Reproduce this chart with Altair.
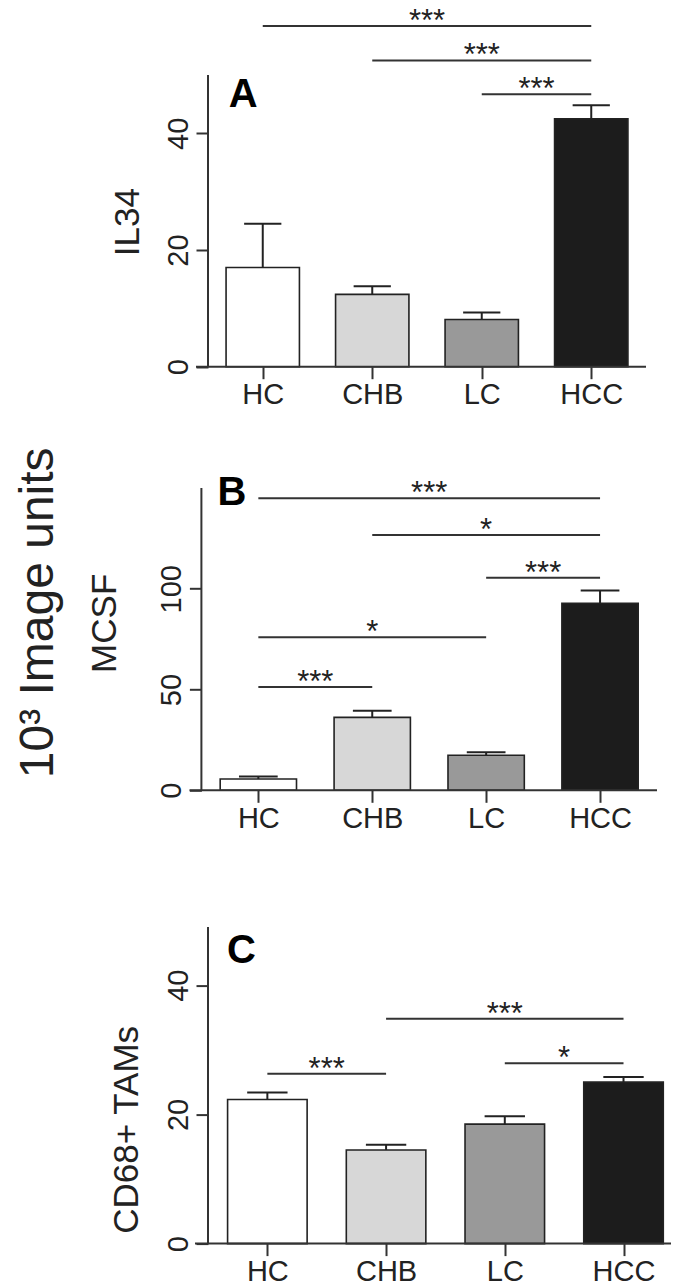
import json
import altair as alt
import pandas as pd

groups = ["HC", "CHB", "LC", "HCC"]
fills = ["#ffffff", "#d7d7d7", "#999999", "#1c1c1c"]

il34_mean = [17.0, 12.4, 8.1, 42.5]
il34_sem = [7.5, 1.4, 1.2, 2.3]
il34_sig_a = ["HC", "CHB", "LC"]
il34_sig_b = ["HCC", "HCC", "HCC"]
il34_sig_h = [58.4, 52.5, 46.7]
il34_sig_t = ["***", "***", "***"]

mcsf_mean = [5.6, 36.2, 17.4, 92.8]
mcsf_sem = [1.3, 3.3, 1.5, 6.4]
mcsf_sig_a = ["HC", "CHB", "LC", "HC", "HC"]
mcsf_sig_b = ["HCC", "HCC", "HCC", "LC", "CHB"]
mcsf_sig_h = [144.9, 126.7, 105.5, 75.9, 51.3]
mcsf_sig_t = ["***", "*", "***", "*", "***"]

cd68_mean = [22.3, 14.5, 18.5, 25.0]
cd68_sem = [1.1, 0.8, 1.2, 0.8]
cd68_sig_a = ["HC", "CHB", "LC"]
cd68_sig_b = ["CHB", "HCC", "HCC"]
cd68_sig_h = [26.3, 34.8, 27.9]
cd68_sig_t = ["***", "***", "*"]

AX = "#333333"
FONT = "Liberation Sans"
label_expr = json.dumps(groups) + "[datum.value]"


def panel(mean, sem, sa, sb, sh, st, letter, ytitle, yticks, axis_top,
          y_top, W, H, xdom, yoff, tx, ty, lx, ly, base_left, extra=None):
    idx = {g: i for i, g in enumerate(groups)}
    bars = pd.DataFrame({
        "group": groups,
        "pos": list(range(len(groups))),
        "mean": mean,
        "err": [m + s for m, s in zip(mean, sem)],
        "fill": fills,
    })
    bars["lo"] = bars["pos"] - 0.335
    bars["hi"] = bars["pos"] + 0.335
    bars["clo"] = bars["pos"] - 0.17
    bars["chi"] = bars["pos"] + 0.17
    sig = pd.DataFrame({
        "x1": [idx[a] for a in sa],
        "x2": [idx[b] for b in sb],
        "h": sh,
        "label": st,
    })
    sig["mid"] = (sig["x1"] + sig["x2"]) / 2
    axline = pd.DataFrame({"a": [0.0], "b": [axis_top]})

    xs = alt.Scale(domain=xdom, nice=False, zero=False)
    ys = alt.Scale(domain=[0, y_top], nice=False, zero=True)
    xaxis = alt.Axis(values=[0, 1, 2, 3], labelExpr=label_expr, title=None,
                     domain=False, grid=False, tickSize=12, tickWidth=2,
                     tickColor=AX, labelFontSize=29, labelPadding=2,
                     labelColor="#222222", labelBaseline="top",
                     labelFlush=False, labelOverlap=False)
    yaxis = alt.Axis(values=yticks, domain=False, grid=False, tickSize=12,
                     tickWidth=2, tickColor=AX, labelAngle=270,
                     labelAlign="center", labelBaseline="bottom",
                     labelPadding=3, labelFontSize=29, labelColor="#222222",
                     labelFlush=False, labelOverlap=False,
                     title=ytitle, titleFontSize=35, titleFontWeight="normal",
                     titleColor="#222222", titleAngle=270, titleX=tx,
                     titleY=ty, titleAlign="center", titleBaseline="middle",
                     offset=yoff)

    base = alt.Chart(bars)
    bar = base.mark_bar(stroke="#222222", strokeWidth=1.6).encode(
        x=alt.X("lo:Q", scale=xs, axis=xaxis),
        x2="hi:Q",
        y=alt.Y("mean:Q", scale=ys, axis=yaxis),
        y2=alt.datum(0),
        fill=alt.Fill("fill:N", scale=None),
    )
    stem = base.mark_rule(strokeWidth=2, color="#222222").encode(
        x=alt.X("pos:Q", scale=xs, axis=xaxis),
        y=alt.Y("mean:Q", scale=ys, axis=yaxis),
        y2="err:Q",
    )
    cap = base.mark_rule(strokeWidth=2, color="#222222").encode(
        x=alt.X("clo:Q", scale=xs, axis=xaxis),
        x2="chi:Q",
        y=alt.Y("err:Q", scale=ys, axis=yaxis),
    )
    yline = alt.Chart(axline).mark_rule(strokeWidth=2, color=AX).encode(
        x=alt.value(-yoff),
        y=alt.Y("a:Q", scale=ys, axis=yaxis),
        y2="b:Q",
    )
    xline = alt.Chart(axline).mark_rule(strokeWidth=2, color=AX).encode(
        x=alt.value(base_left),
        x2=alt.value(W),
        y=alt.Y("a:Q", scale=ys, axis=yaxis),
    )
    sline = alt.Chart(sig).mark_rule(strokeWidth=2, color=AX).encode(
        x=alt.X("x1:Q", scale=xs, axis=xaxis),
        x2="x2:Q",
        y=alt.Y("h:Q", scale=ys, axis=yaxis),
    )
    stext = alt.Chart(sig).mark_text(fontSize=31, baseline="alphabetic",
                                     align="center", dy=5,
                                     color="#222222").encode(
        x=alt.X("mid:Q", scale=xs, axis=xaxis),
        y=alt.Y("h:Q", scale=ys, axis=yaxis),
        text="label:N",
    )
    let = alt.Chart(pd.DataFrame({"t": [letter]})).mark_text(
        fontSize=40, fontWeight="bold", align="left", baseline="alphabetic",
        color="#000000").encode(x=alt.value(lx), y=alt.value(ly), text="t:N")
    layers = [bar, stem, cap, yline, xline, sline, stext, let]
    if extra is not None:
        layers.append(extra)
    return alt.layer(*layers).properties(width=W, height=H)


big = alt.Chart(pd.DataFrame({"t": ["10\u00b3 Image units"]})).mark_text(
    fontSize=48, angle=270, align="center", baseline="alphabetic",
    color="#222222").encode(x=alt.value(-155), y=alt.value(142.5), text="t:N")

pA = panel(il34_mean, il34_sem, il34_sig_a, il34_sig_b, il34_sig_h,
           il34_sig_t, "A", "IL34", [0, 20, 40], 50, 61.48, 438, 358.7,
           [-0.5, 3.5], 0, -81, 213.7, 20.8, 98.7, -12)
pB = panel(mcsf_mean, mcsf_sem, mcsf_sig_a, mcsf_sig_b, mcsf_sig_h,
           mcsf_sig_t, "B", "MCSF", [0, 50, 100], 150, 158.8, 449, 320,
           [-0.442, 3.5], 6.6, -97.3, 152.5, 9.4, 34.3, -18.5, extra=big)
pC = panel(cd68_mean, cd68_sem, cd68_sig_a, cd68_sig_b, cd68_sig_h,
           cd68_sig_t, "C", "CD68+ TAMs", [0, 20, 40], 49, 54.18, 463, 350,
           [-0.5, 3.4], 0, -81.8, 235.7, 19, 69.5, -13)

chart = alt.vconcat(pA, pB, pC, spacing=103.3, bounds="flush").properties(
    padding={"left": 7, "top": -3, "right": 0, "bottom": 0}
).configure(font=FONT).configure_view(stroke=None).configure_axis(
    labelFont=FONT, titleFont=FONT)

chart.save("out.html", embed_options={"renderer": "svg", "actions": False})
